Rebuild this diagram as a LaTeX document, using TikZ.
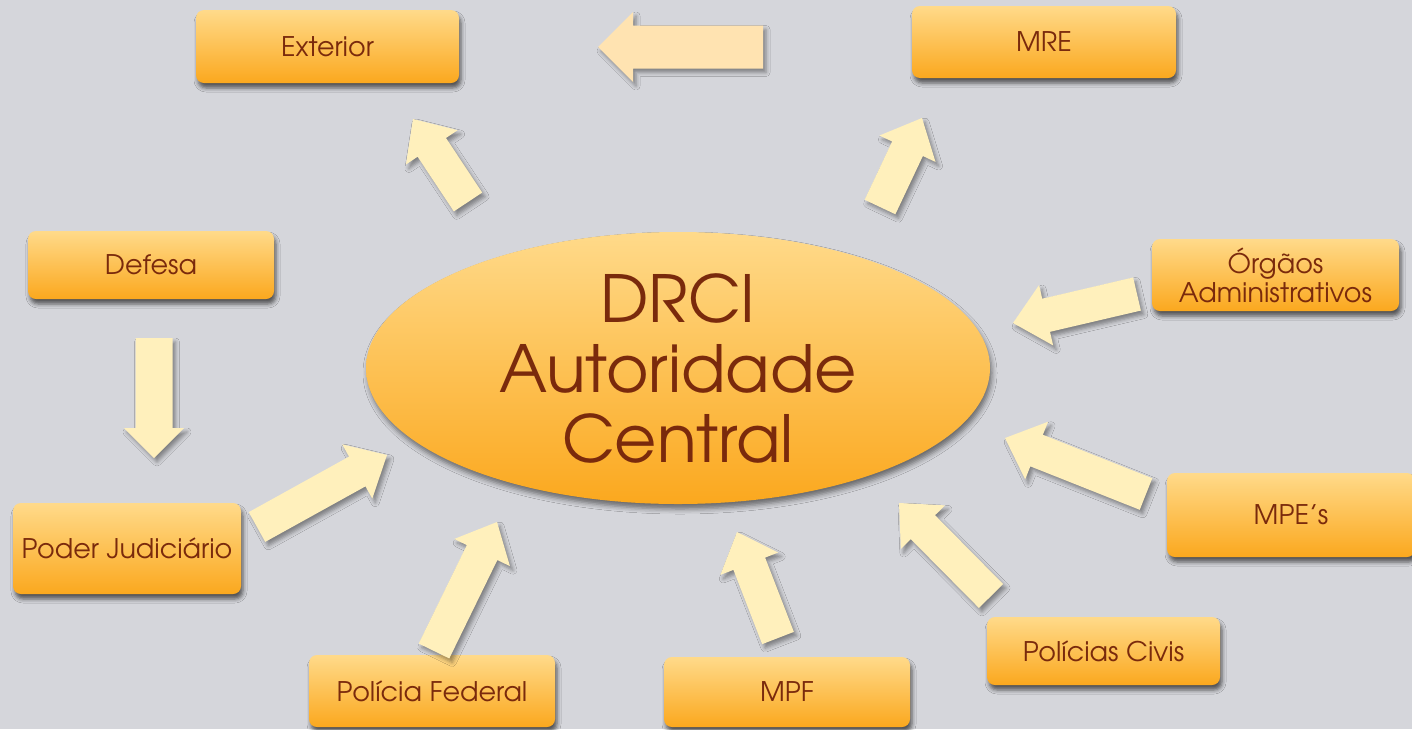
\documentclass[tikz,border=0pt]{standalone}
\usepackage{fontspec}
\setmainfont{texgyreadventor-regular.otf}
\usetikzlibrary{shapes.geometric,calc,shadows,shadows.blur}
\definecolor{bg}{HTML}{D5D6DB}
\definecolor{btop}{HTML}{FFDA8A}
\definecolor{bbot}{HTML}{FBA81E}
\definecolor{txt}{HTML}{7A2A0C}
\definecolor{arr}{HTML}{FFF0BC}
\definecolor{arrpeach}{HTML}{FFE3B1}
\tikzset{
  box/.style={rectangle, rounded corners=4pt, top color=btop, bottom color=bbot,
    draw=none, text=txt, font=\fontsize{13.5}{14.5}\selectfont, align=center, inner sep=0pt,
    blur shadow={shadow xshift=1pt, shadow yshift=-2.5pt, shadow opacity=60, shadow blur radius=2pt}},
  hub/.style={ellipse, top color=btop, bottom color=bbot, draw=none, text=txt,
    font=\fontsize{32.5}{35}\selectfont, align=center, inner sep=0pt,
    blur shadow={shadow xshift=1pt, shadow yshift=-2.5pt, shadow opacity=50, shadow blur radius=2.5pt}},
  arrowfill/.style={fill=arr, blur shadow={shadow xshift=1.5pt, shadow yshift=-2pt, shadow opacity=40, shadow blur radius=2pt}},
}
% block arrow: [style]{tail}{tip}{shaft half width}{head half width}{head length}
\newcommand\blockarrow[6][]{%
  \path coordinate (ahb) at ($(#3)!#6!(#2)$);
  \fill[arrowfill,#1] ($(#2)!#4!90:(#3)$) -- ($(ahb)!#4!-90:(#2)$) -- ($(ahb)!#5!-90:(#2)$)
    -- (#3) -- ($(ahb)!#5!90:(#2)$) -- ($(ahb)!#4!90:(#2)$) -- ($(#2)!#4!-90:(#3)$) -- cycle;
}
\begin{document}
\begin{tikzpicture}[x=0.5pt,y=-0.5pt]
\useasboundingbox (0,0) rectangle (1412,729);
\fill[bg] (0,0) rectangle (1412,729);

% nodes
\node[hub, minimum width=312pt, minimum height=136pt] (hubn) at (678,368) {DRCI\\Autoridade\\Central};
\node[box, minimum width=131.5pt, minimum height=36.5pt] (ext) at (327.5,46.5) {Exterior};
\node[box, minimum width=132pt, minimum height=36pt] (mre) at (1044,42) {MRE};
\node[box, minimum width=123pt, minimum height=34pt] (def) at (151,265) {Defesa};
\node[box, minimum width=123.5pt, minimum height=36pt] (org) at (1275.5,275) {Órgãos\\Administrativos};
\node[box, minimum width=114pt, minimum height=45.5pt] (pj) at (127,548.5) {Poder Judiciário};
\node[box, minimum width=124pt, minimum height=42pt] (mpe) at (1291,515) {MPE’s};
\node[box, minimum width=123pt, minimum height=36pt] (pf) at (432,691) {Polícia Federal};
\node[box, minimum width=123pt, minimum height=35pt] (mpf) at (787,692) {MPF};
\node[box, minimum width=116.5pt, minimum height=34pt] (pc) at (1103.5,651) {Polícias Civis};

% arrow end points
\coordinate (a1t) at (763,47);   \coordinate (a1h) at (598,47);
\coordinate (a2t) at (468,202);  \coordinate (a2h) at (413,119);
\coordinate (a3t) at (880,207);  \coordinate (a3h) at (922,118);
\coordinate (a4t) at (154,338);  \coordinate (a4h) at (154,458);
\coordinate (a5t) at (257,527);  \coordinate (a5h) at (387,455);
\coordinate (a6t) at (434,651);  \coordinate (a6h) at (497,522);
\coordinate (a7t) at (778,638);  \coordinate (a7h) at (737,532);
\coordinate (a8t) at (991,596);  \coordinate (a8h) at (899,503);
\coordinate (a9t) at (1146,494); \coordinate (a9h) at (1005,438);
\coordinate (a10t) at (1137,294); \coordinate (a10h) at (1013,323);

% arrows
\blockarrow[fill=arrpeach]{a1t}{a1h}{10.75pt}{17.5pt}{17.5pt}
\blockarrow{a2t}{a2h}{8.5pt}{15.5pt}{17pt}
\blockarrow{a3t}{a3h}{8.5pt}{15.5pt}{17pt}
\blockarrow{a4t}{a4h}{9.25pt}{15pt}{15pt}
\blockarrow{a5t}{a5h}{8.5pt}{15.5pt}{17pt}
\blockarrow{a6t}{a6h}{8.5pt}{15.5pt}{17pt}
\blockarrow{a7t}{a7h}{8.5pt}{15.5pt}{17pt}
\blockarrow{a8t}{a8h}{8.5pt}{15.5pt}{17pt}
\blockarrow{a9t}{a9h}{8.5pt}{15.5pt}{17pt}
\blockarrow{a10t}{a10h}{8.5pt}{15.5pt}{17pt}
\end{tikzpicture}
\end{document}
